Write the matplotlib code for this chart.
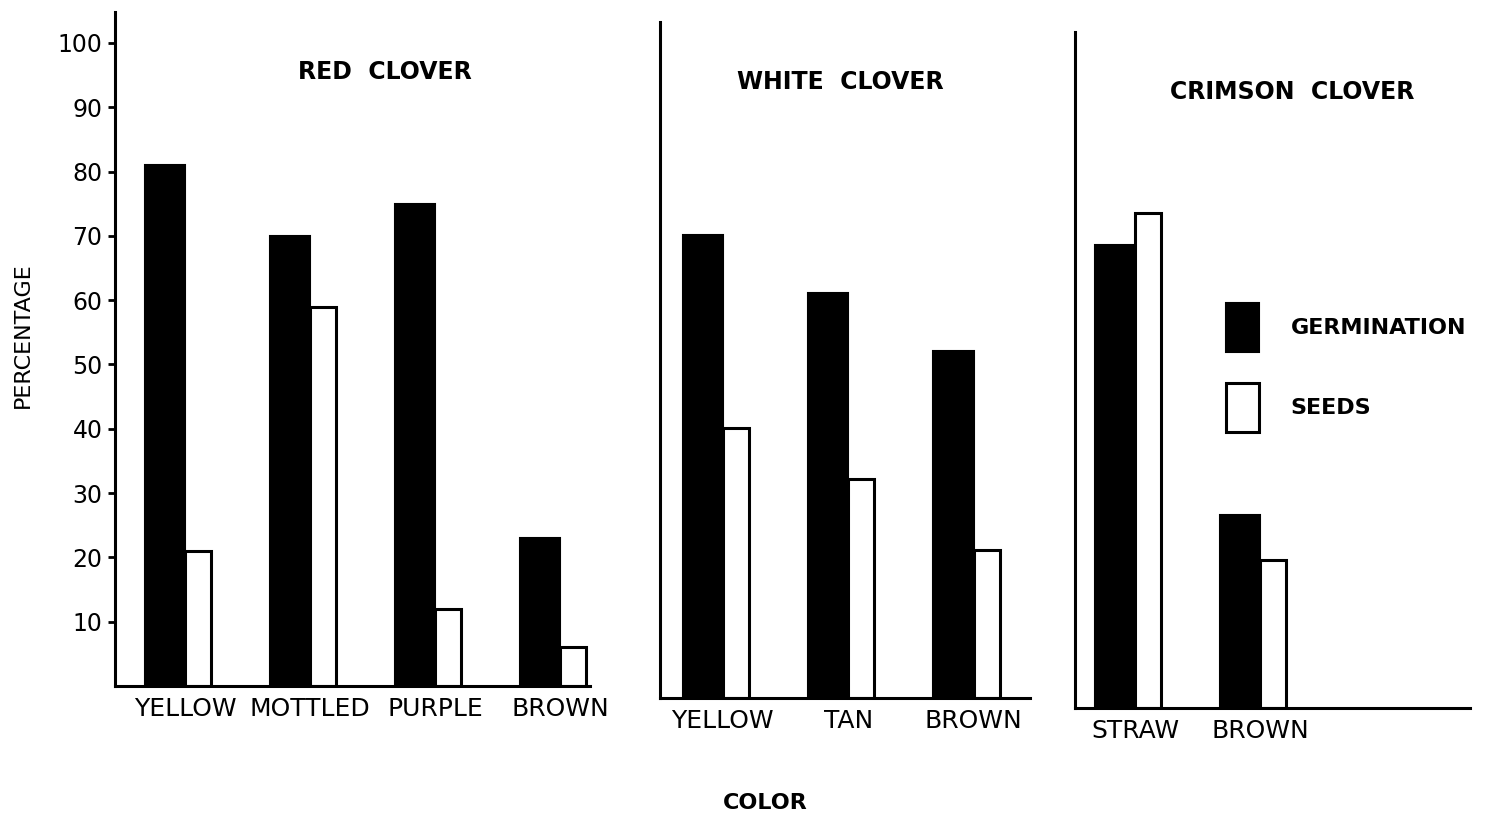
import numpy as np
import matplotlib
matplotlib.use("Agg")
import matplotlib.pyplot as plt
from matplotlib.patches import Patch

# values (percent)
red_colors = ["YELLOW", "MOTTLED", "PURPLE", "BROWN"]
red_germ = [81, 70, 75, 23]
red_seeds = [21, 59, 12, 6]

white_colors = ["YELLOW", "TAN", "BROWN"]
white_germ = [72, 63, 54]
white_seeds = [42, 34, 23]

crimson_colors = ["STRAW", "BROWN"]
crimson_germ = [72, 30]
crimson_seeds = [77, 23]

W, H = 1501, 816
PX_PER_UNIT = 6.43  # pixels per percent in the original


def rect(left, right, bottom, top):
    # pixel box -> figure fraction
    return [left / W, 1 - bottom / H, (right - left) / W, (bottom - top) / H]


fig = plt.figure(figsize=(W / 100, H / 100), dpi=100)
plt.rcParams['font.family'] = ['DejaVu Sans']

panels = [
    # name, colors, germ, seeds, pixel box, xlim, title pos
    ("RED  CLOVER", red_colors, red_germ, red_seeds, (115, 590, 686, 12), (-0.56, 3.24), (0.568, 0.911)),
    ("WHITE  CLOVER", white_colors, white_germ, white_seeds, (660, 1030, 698, 22), (-0.5, 2.45), (0.486, 0.911)),
    ("CRIMSON  CLOVER", crimson_colors, crimson_germ, crimson_seeds, (1075, 1470, 708, 32), (-0.48, 2.68), (0.549, 0.911)),
]

axes = []
for i, (name, cats, germ, seeds, box, xl, tpos) in enumerate(panels):
    ax = fig.add_axes(rect(*box))
    x = np.arange(len(cats))
    ax.bar(x - 0.16, germ, width=0.32, color="black", edgecolor="black", linewidth=1.5)
    ax.bar(x + 0.105, seeds, width=0.21, color="white", edgecolor="black", linewidth=2.2)
    ax.set_xlim(*xl)
    ax.set_ylim(0, (box[2] - box[3]) / PX_PER_UNIT)
    for s in ["top", "right"]:
        ax.spines[s].set_visible(False)
    ax.spines["left"].set_linewidth(2.2)
    ax.spines["bottom"].set_linewidth(2.2)
    ax.set_xticks(x)
    ax.set_xticklabels(cats, fontsize=18)
    ax.tick_params(axis="x", length=0, pad=8)
    if i == 0:
        ax.set_yticks(np.arange(10, 101, 10))
        ax.set_yticklabels([str(v) for v in range(10, 101, 10)], fontsize=17)
        ax.tick_params(axis="y", length=5, width=2, pad=4)
        ax.set_ylabel("PERCENTAGE", fontsize=16)
        ax.yaxis.set_label_coords(-0.173, 0.52)
    else:
        ax.set_yticks([])
    ax.text(tpos[0], tpos[1], name, transform=ax.transAxes, ha="center", va="center",
            fontsize=17, fontweight="bold")
    ax.patch.set_alpha(0)
    axes.append(ax)

handles = [Patch(facecolor="black", edgecolor="black", linewidth=1.5),
           Patch(facecolor="white", edgecolor="black", linewidth=2.2)]
fig.legend(handles, ["GERMINATION", "SEEDS"], loc="upper left",
           bbox_to_anchor=(1226 / W, 1 - 303 / H), frameon=False,
           handlelength=1.5, handleheight=3.0, labelspacing=1.4, handletextpad=1.4,
           borderpad=0, borderaxespad=0,
           prop={"size": 16, "weight": "bold"})

fig.text(765 / W, 1 - 803 / H, "COLOR", ha="center", va="center", fontsize=16, fontweight="bold")

fig.savefig("out.png", dpi=100)
